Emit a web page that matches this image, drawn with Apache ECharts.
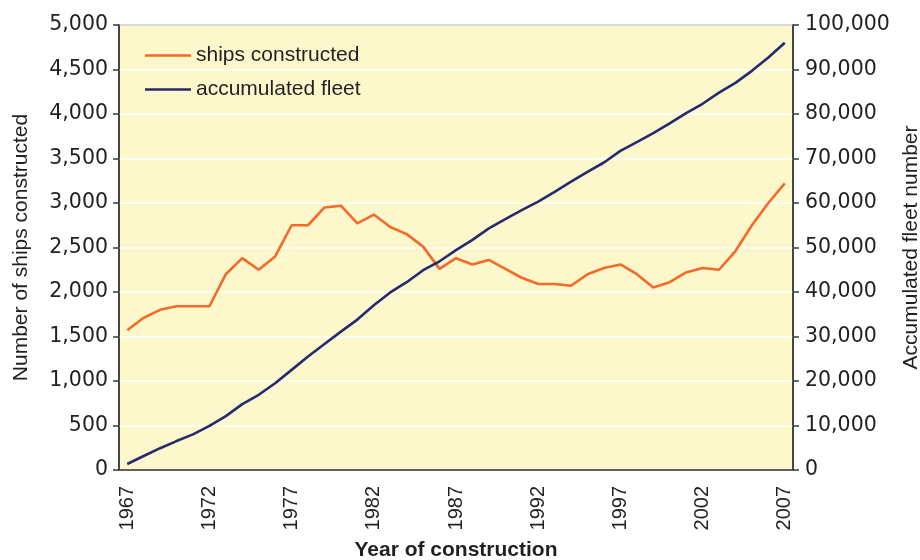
<!DOCTYPE html>
<html>
<head>
  <meta charset="UTF-8">
  <script src="https://cdn.jsdelivr.net/npm/echarts@6/dist/echarts.min.js"></script>
  <title>Ships constructed and accumulated fleet</title>
  <style>
    body { margin: 0; background: #fff; }
    #chart { width: 920px; height: 560px; }
  </style>
</head>
<body>
  <div id="chart"></div>
  <script>
    // years 1967..2007
    const years = [];
    for (let y = 1967; y <= 2007; y++) years.push(String(y));

    const shipsConstructed = [
      1570, 1710, 1800, 1840, 1840, 1840, 2200, 2380, 2250, 2400,
      2750, 2750, 2950, 2970, 2770, 2870, 2730, 2650, 2510, 2260,
      2380, 2310, 2360, 2260, 2160, 2090, 2090, 2070, 2200, 2270,
      2310, 2200, 2050, 2110, 2220, 2270, 2250, 2460, 2750, 3000,
      3220
    ];
    const accumulatedFleet = [
      1350, 3150, 4900, 6500, 8000, 9900, 12100, 14800, 16900, 19500,
      22500, 25500, 28300, 31100, 33800, 37000, 39900, 42200, 44900, 46900,
      49400, 51700, 54300, 56400, 58400, 60300, 62500, 64800, 67000, 69100,
      71700, 73700, 75700, 77900, 80200, 82300, 84800, 87000, 89700, 92700,
      96000
    ];

    const txt = '#231f20';
    const axisCol = '#3a3a3a';
    const fmt = v => v.toLocaleString('en-US');

    const chart = echarts.init(document.getElementById('chart'));
    chart.setOption({
      animation: false,
      textStyle: { fontFamily: 'Liberation Sans, Arial, sans-serif', color: txt },
      grid: {
        left: 119, right: 127, top: 25, bottom: 90,
        outerBoundsMode: 'none',
        show: true, backgroundColor: '#fcf8cc',
        borderColor: axisCol, borderWidth: 1.5
      },
      legend: {
        orient: 'vertical', left: 140, top: 40,
        itemWidth: 46, itemHeight: 14, itemGap: 13,
        icon: 'path://M0,6 L46,6 L46,8.5 L0,8.5 Z',
        textStyle: { fontSize: 21, color: txt, fontFamily: 'Liberation Sans, Arial, sans-serif' },
        data: ['ships constructed', 'accumulated fleet']
      },
      xAxis: {
        type: 'category', data: years, boundaryGap: true,
        name: 'Year of construction', nameLocation: 'middle', nameGap: 70,
        nameTextStyle: { fontSize: 21, fontWeight: 'bold', color: txt },
        axisLine: { lineStyle: { color: axisCol, width: 1.5 } },
        axisTick: { interval: 0, length: 6, lineStyle: { color: axisCol, width: 1.5 } },
        axisLabel: { interval: 4, rotate: 90, margin: 16, fontSize: 20, color: txt },
        splitLine: { show: false }
      },
      yAxis: [
        {
          type: 'value', min: 0, max: 5000, interval: 500,
          name: 'Number of ships constructed', nameLocation: 'middle', nameGap: 87,
          nameRotate: 90,
          nameTextStyle: { fontSize: 21, color: txt },
          axisLine: { show: true, lineStyle: { color: axisCol, width: 1.5 } },
          axisTick: { show: true, length: 6, lineStyle: { color: axisCol, width: 1.5 } },
          axisLabel: { margin: 11, fontSize: 20.5, color: txt, formatter: fmt,
                       fontFamily: 'DejaVu Sans, sans-serif' },
          splitLine: { show: true, lineStyle: { color: '#ffffff', width: 1.5 } }
        },
        {
          type: 'value', min: 0, max: 100000, interval: 10000, position: 'right',
          name: 'Accumulated fleet number', nameLocation: 'middle', nameGap: 106,
          nameRotate: 90,
          nameTextStyle: { fontSize: 21, color: txt },
          axisLine: { show: true, lineStyle: { color: axisCol, width: 1.5 } },
          axisTick: { show: true, length: 6, lineStyle: { color: axisCol, width: 1.5 } },
          axisLabel: { margin: 12, fontSize: 20.5, color: txt, formatter: fmt,
                       fontFamily: 'DejaVu Sans, sans-serif' },
          splitLine: { show: false }
        }
      ],
      series: [
        {
          name: 'ships constructed', type: 'line', yAxisIndex: 0,
          data: shipsConstructed, symbol: 'none',
          lineStyle: { color: '#f5692a', width: 2.6 }, itemStyle: { color: '#f5692a' }
        },
        {
          name: 'accumulated fleet', type: 'line', yAxisIndex: 1,
          data: accumulatedFleet, symbol: 'none',
          lineStyle: { color: '#262a6e', width: 2.6 }, itemStyle: { color: '#262a6e' }
        }
      ]
    });
  </script>
</body>
</html>
